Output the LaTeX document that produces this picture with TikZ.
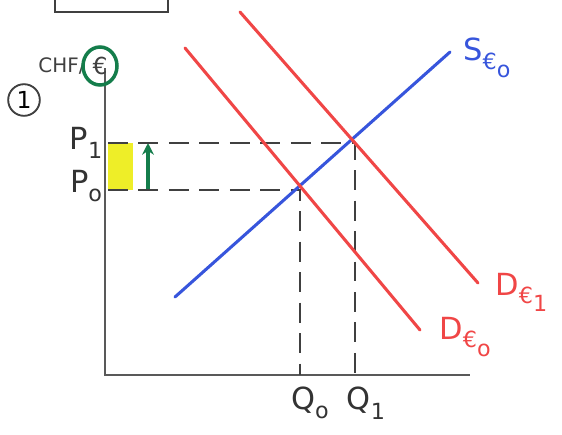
\documentclass[tikz,border=0pt]{standalone}
\usepackage{tikz}
\usetikzlibrary{arrows.meta,positioning}
\usepackage{fontspec}
\setmainfont{DejaVu Sans}
\definecolor{dred}{RGB}{240,70,70}
\definecolor{sblue}{RGB}{55,85,220}
\definecolor{agreen}{RGB}{20,125,75}
\definecolor{hyel}{RGB}{238,238,40}
\newcommand{\eursub}[1]{\raisebox{-7pt}{\fontsize{19}{20}\selectfont €\raisebox{-7pt}{#1}}}
\newcommand{\lsub}[1]{\raisebox{-8pt}{\fontsize{19}{20}\selectfont #1}}

\begin{document}
\begin{tikzpicture}[x=0.03cm,y=-0.03cm,>={Stealth[length=10pt,width=10pt]},
  font=\fontsize{26}{28}\selectfont,
  ax/.style={draw=gray!70!black,line width=2pt},
  dsh/.style={draw=black!75,line width=1.8pt,dash pattern=on 17pt off 9pt},
  dcurve/.style={draw=dred,line width=2.6pt,line cap=round},
  scurve/.style={draw=sblue,line width=2.6pt,line cap=round},
  lbl/.style={inner sep=1pt}]
\useasboundingbox (0,0) rectangle (562,434);
% partial box at the top
\draw[ax,draw=black!75] (55,-5) -- (55,12) -- (168,12) -- (168,-5);
% axes
\coordinate (o) at (105,375);
\coordinate (ytop) at (105,68);
\coordinate (xend) at (470,375);
\draw[ax] (ytop) -- (o) -- (xend);
\node[lbl,font=\fontsize{17}{18}\selectfont,text=black!75] (chf) at (62,66) {CHF/};
\node[lbl,font=\fontsize{20}{20}\selectfont,text=black!75] (eur) at (100,66) {€};
\draw[agreen,line width=3pt] (eur) ellipse (17 and 19);
\node[draw=black!75,circle,line width=1.6pt,inner sep=1pt,minimum size=27pt,font=\fontsize{20}{20}\selectfont] (num) at (24,100) {1};
% price and quantity labels
\node[lbl,text=black!80] (p1) at (86,143) {P\lsub{1}};
\node[lbl,text=black!80] (p0) at (86,186) {P\lsub{o}};
\node[lbl,text=black!80] (q0) at (310,403) {Q\lsub{o}};
\node[lbl,text=black!80] (q1) at (366,403) {Q\lsub{1}};
% price rise
\fill[hyel] (108,143) rectangle (133,190);
\coordinate (a0) at (148,190);
\coordinate (a1) at (148,143);
\draw[->,agreen,line width=3pt] (a0) -- (a1);
% equilibria
\coordinate (e0) at (300,190);
\coordinate (e1) at (355,143);
\coordinate (b0) at (300,375);
\coordinate (b1) at (355,375);
\coordinate (l0) at (108,190);
\coordinate (l1) at (108,143);
\draw[dsh] (l1) -- (e1) -- (b1);
\draw[dsh] (l0) -- (e0) -- (b0);
% supply and demand
\coordinate (s0) at (175,297);
\coordinate (s1) at (450,52);
\coordinate (d0a) at (185,48);
\coordinate (d0b) at (420,330);
\coordinate (d1a) at (240,12);
\coordinate (d1b) at (478,283);
\draw[scurve] (s0) -- (s1);
\draw[dcurve] (d0a) -- (d0b);
\draw[dcurve] (d1a) -- (d1b);
\node[lbl,text=sblue,right=12 of s1,yshift=-5] (slbl) {S\eursub{o}};
\node[lbl,text=dred,right=18 of d0b,yshift=-6] (d0lbl) {D\eursub{o}};
\node[lbl,text=dred,right=16 of d1b,yshift=-8] (d1lbl) {D\eursub{1}};
\end{tikzpicture}
\end{document}
